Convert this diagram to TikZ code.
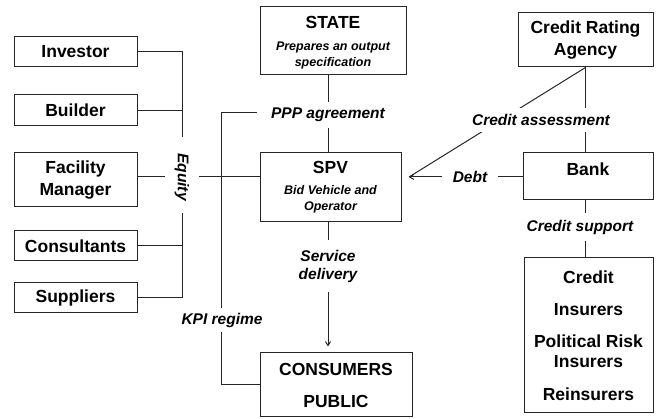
\documentclass[tikz,border=0pt]{standalone}
\usepackage{fontspec}
\setmainfont{Liberation Sans}
\usepackage{tikz}
\usetikzlibrary{calc}
\usetikzlibrary{arrows.meta}
\tikzset{>={Straight Barb[width=1.8mm,length=1.4mm]}}

\begin{document}
\begin{tikzpicture}[x=1pt, y=-1pt, line width=1pt, draw=black!85]
  \tikzstyle{bnode} = [draw, rectangle, inner sep=0pt, align=center, font=\fontsize{17.5}{22}\selectfont\bfseries]
  \tikzstyle{tnode} = [inner sep=0pt, font=\fontsize{17.5}{22}\selectfont\bfseries]
  \tikzstyle{snode} = [inner sep=0pt, align=center, font=\fontsize{12.5}{16}\selectfont\bfseries\itshape]
  \tikzstyle{lnode} = [inner xsep=10pt, inner ysep=6pt, align=center, font=\fontsize{15.5}{18}\selectfont\bfseries\itshape]
  \useasboundingbox (0,0) rectangle (657,419);

  % partners on the left
  \node[bnode, minimum width=123pt, minimum height=30pt] (inv) at (75.5,52) {Investor};
  \node[bnode, minimum width=123pt, minimum height=31pt] (bld) at (75.5,110.5) {Builder};
  \node[bnode, minimum width=123pt, minimum height=54pt] (fm) at (75.5,180) {Facility\\Manager};
  \node[bnode, minimum width=123pt, minimum height=30pt] (cons) at (75.5,246) {Consultants};
  \node[bnode, minimum width=123pt, minimum height=30pt] (sup) at (75.5,298) {Suppliers};

  % middle column
  \node[bnode, minimum width=146pt, minimum height=68pt] (state) at (333,41) {};
  \node[tnode] at (333,22) {STATE};
  \node[snode] at (333,55.5) {Prepares an output\\specification};

  \node[bnode, minimum width=141pt, minimum height=69pt] (spv) at (330.5,187.5) {};
  \node[tnode] at (330.5,167) {SPV};
  \node[snode] at (330.5,199.5) {Bid Vehicle and\\Operator};

  \node[bnode, minimum width=152pt, minimum height=64pt] (consumers) at (336,385) {CONSUMERS\\[10pt]PUBLIC};

  % right column
  \node[bnode, minimum width=135pt, minimum height=54pt] (cra) at (585.5,40) {Credit Rating\\Agency};
  \node[bnode, minimum width=130pt, minimum height=47pt] (bank) at (588,176.5) {};
  \node[tnode] at (588,169) {Bank};
  \node[bnode, minimum width=129pt, minimum height=155pt] (crd) at (588.5,335.5)
    {Credit\\[10pt]Insurers\\[10pt]Political Risk\\[-2pt]Insurers\\[11pt]Reinsurers};

  % labels
  \node[lnode, rotate=-90, inner xsep=4pt, inner ysep=9.5pt] (eq) at (182,177) {Equity};
  \node[lnode, inner xsep=14pt] (ppp) at (328,115) {PPP agreement};
  \node[lnode, inner ysep=4pt] (kpi) at (222,320) {KPI regime};
  \node[lnode, inner ysep=9pt] (sd) at (328,266) {Service\\delivery};
  \node[lnode] (debt) at (470,177) {Debt};
  \node[lnode] (cs) at (580,227) {Credit support};

  \coordinate (eqtop) at (182,137);
  \coordinate (eqbot) at (182,213);
  \coordinate (kpitop) at (221,113);
  \coordinate (spvin) at (409,177);

  % equity
  \draw (inv.east) -| (eqtop);
  \draw (bld.east) -| (eqtop);
  \draw (cons.east) -| (eqbot);
  \draw (sup.east) -| (eqbot);
  \draw (fm.east |- eq) -- (eq) -- (spv.west |- eq);

  % contract and kpi
  \draw (state.south -| ppp) -- (ppp) -- (spv.north -| ppp);
  \draw (ppp.west |- kpitop) -- (kpitop) -- (kpitop |- kpi.north);
  \draw (kpi.south -| kpitop) |- (consumers.west);
  \draw (spv.south -| sd) -- (sd);
  \draw[->, shorten >=6pt] (sd) -- (consumers.north -| sd);

  % finance
  \draw (bank.west |- debt) -- (debt);
  \draw[->] (debt) -- (spvin);
  \draw (cra.south) -- (spvin);
  \draw (cra.south) -- (cra.south |- bank.north);
  \draw (bank.south -| cra.south) -- (cs.north -| cra.south);
  \draw (cs.south -| cra.south) -- (crd.north -| cra.south);
  \node[lnode, fill=white] (ca) at (541,120) {Credit assessment};
\end{tikzpicture}
\end{document}
